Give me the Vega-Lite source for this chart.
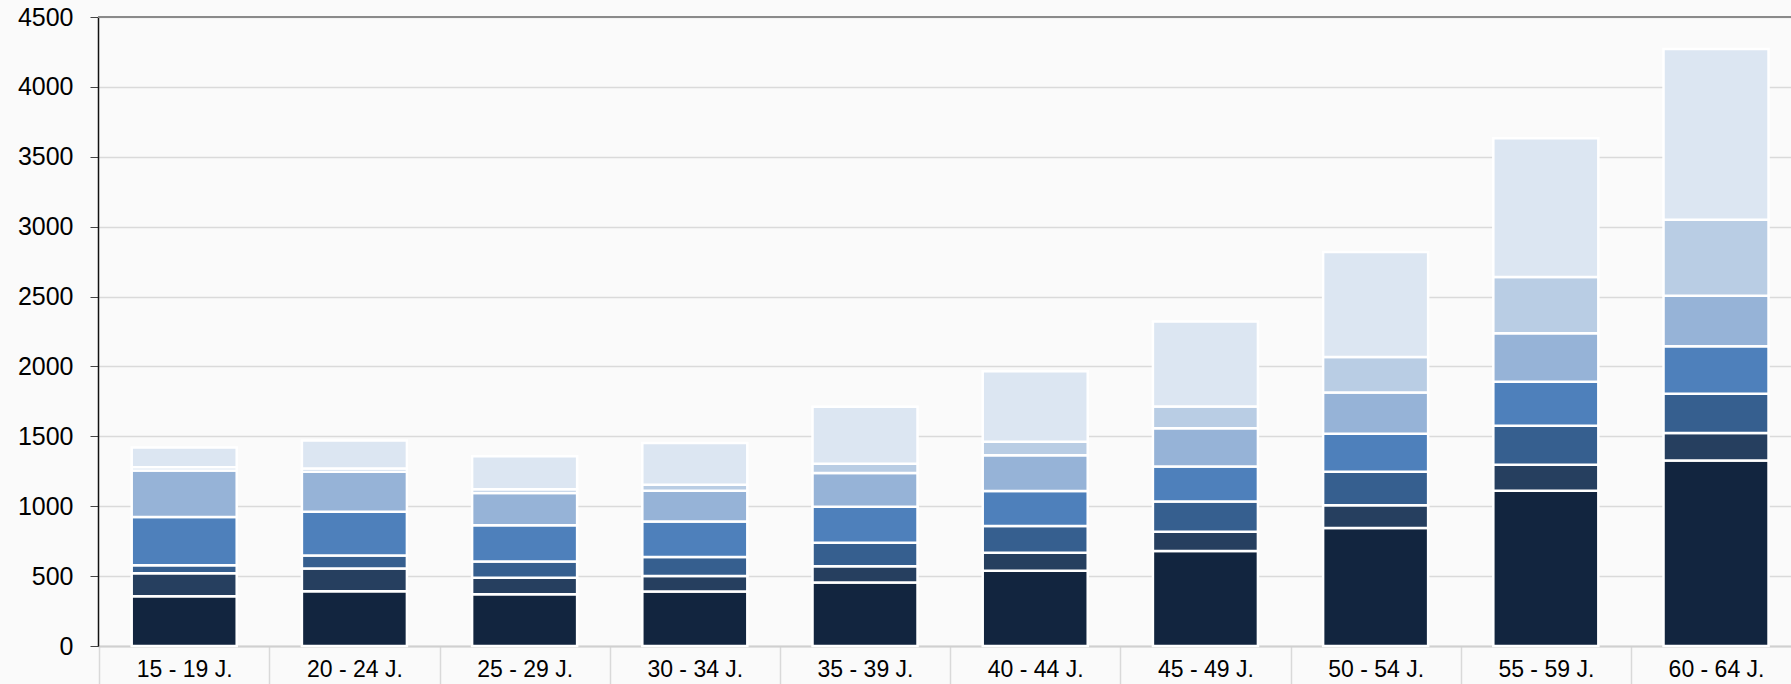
{
  "$schema": "https://vega.github.io/schema/vega-lite/v6.json",
  "autosize": {"type": "none"},
  "padding": {"left": 98, "top": 17, "right": 0, "bottom": 38},
  "width": 1693,
  "height": 629,
  "background": "#fafafa",
  "config": {"view": {"stroke": null, "fill": "#fafafa"}, "font": "Liberation Sans"},
  "layer": [
    {
      "data": {"values": [
        {"age": "15 - 19 J.", "s": "Gruppe 1", "k": 1, "v": 356},
        {"age": "15 - 19 J.", "s": "Gruppe 2", "k": 2, "v": 165},
        {"age": "15 - 19 J.", "s": "Gruppe 3", "k": 3, "v": 57},
        {"age": "15 - 19 J.", "s": "Gruppe 4", "k": 4, "v": 344},
        {"age": "15 - 19 J.", "s": "Gruppe 5", "k": 5, "v": 333},
        {"age": "15 - 19 J.", "s": "Gruppe 6", "k": 6, "v": 24},
        {"age": "15 - 19 J.", "s": "Gruppe 7", "k": 7, "v": 142},
        {"age": "20 - 24 J.", "s": "Gruppe 1", "k": 1, "v": 392},
        {"age": "20 - 24 J.", "s": "Gruppe 2", "k": 2, "v": 163},
        {"age": "20 - 24 J.", "s": "Gruppe 3", "k": 3, "v": 93},
        {"age": "20 - 24 J.", "s": "Gruppe 4", "k": 4, "v": 313},
        {"age": "20 - 24 J.", "s": "Gruppe 5", "k": 5, "v": 285},
        {"age": "20 - 24 J.", "s": "Gruppe 6", "k": 6, "v": 24},
        {"age": "20 - 24 J.", "s": "Gruppe 7", "k": 7, "v": 201},
        {"age": "25 - 29 J.", "s": "Gruppe 1", "k": 1, "v": 371},
        {"age": "25 - 29 J.", "s": "Gruppe 2", "k": 2, "v": 117},
        {"age": "25 - 29 J.", "s": "Gruppe 3", "k": 3, "v": 117},
        {"age": "25 - 29 J.", "s": "Gruppe 4", "k": 4, "v": 258},
        {"age": "25 - 29 J.", "s": "Gruppe 5", "k": 5, "v": 232},
        {"age": "25 - 29 J.", "s": "Gruppe 6", "k": 6, "v": 26},
        {"age": "25 - 29 J.", "s": "Gruppe 7", "k": 7, "v": 237},
        {"age": "30 - 34 J.", "s": "Gruppe 1", "k": 1, "v": 390},
        {"age": "30 - 34 J.", "s": "Gruppe 2", "k": 2, "v": 110},
        {"age": "30 - 34 J.", "s": "Gruppe 3", "k": 3, "v": 136},
        {"age": "30 - 34 J.", "s": "Gruppe 4", "k": 4, "v": 254},
        {"age": "30 - 34 J.", "s": "Gruppe 5", "k": 5, "v": 220},
        {"age": "30 - 34 J.", "s": "Gruppe 6", "k": 6, "v": 43},
        {"age": "30 - 34 J.", "s": "Gruppe 7", "k": 7, "v": 299},
        {"age": "35 - 39 J.", "s": "Gruppe 1", "k": 1, "v": 454},
        {"age": "35 - 39 J.", "s": "Gruppe 2", "k": 2, "v": 117},
        {"age": "35 - 39 J.", "s": "Gruppe 3", "k": 3, "v": 167},
        {"age": "35 - 39 J.", "s": "Gruppe 4", "k": 4, "v": 258},
        {"age": "35 - 39 J.", "s": "Gruppe 5", "k": 5, "v": 242},
        {"age": "35 - 39 J.", "s": "Gruppe 6", "k": 6, "v": 65},
        {"age": "35 - 39 J.", "s": "Gruppe 7", "k": 7, "v": 409},
        {"age": "40 - 44 J.", "s": "Gruppe 1", "k": 1, "v": 538},
        {"age": "40 - 44 J.", "s": "Gruppe 2", "k": 2, "v": 129},
        {"age": "40 - 44 J.", "s": "Gruppe 3", "k": 3, "v": 191},
        {"age": "40 - 44 J.", "s": "Gruppe 4", "k": 4, "v": 251},
        {"age": "40 - 44 J.", "s": "Gruppe 5", "k": 5, "v": 256},
        {"age": "40 - 44 J.", "s": "Gruppe 6", "k": 6, "v": 96},
        {"age": "40 - 44 J.", "s": "Gruppe 7", "k": 7, "v": 505},
        {"age": "45 - 49 J.", "s": "Gruppe 1", "k": 1, "v": 680},
        {"age": "45 - 49 J.", "s": "Gruppe 2", "k": 2, "v": 138},
        {"age": "45 - 49 J.", "s": "Gruppe 3", "k": 3, "v": 215},
        {"age": "45 - 49 J.", "s": "Gruppe 4", "k": 4, "v": 251},
        {"age": "45 - 49 J.", "s": "Gruppe 5", "k": 5, "v": 274},
        {"age": "45 - 49 J.", "s": "Gruppe 6", "k": 6, "v": 155},
        {"age": "45 - 49 J.", "s": "Gruppe 7", "k": 7, "v": 609},
        {"age": "50 - 54 J.", "s": "Gruppe 1", "k": 1, "v": 845},
        {"age": "50 - 54 J.", "s": "Gruppe 2", "k": 2, "v": 162},
        {"age": "50 - 54 J.", "s": "Gruppe 3", "k": 3, "v": 239},
        {"age": "50 - 54 J.", "s": "Gruppe 4", "k": 4, "v": 272},
        {"age": "50 - 54 J.", "s": "Gruppe 5", "k": 5, "v": 296},
        {"age": "50 - 54 J.", "s": "Gruppe 6", "k": 6, "v": 253},
        {"age": "50 - 54 J.", "s": "Gruppe 7", "k": 7, "v": 752},
        {"age": "55 - 59 J.", "s": "Gruppe 1", "k": 1, "v": 1110},
        {"age": "55 - 59 J.", "s": "Gruppe 2", "k": 2, "v": 186},
        {"age": "55 - 59 J.", "s": "Gruppe 3", "k": 3, "v": 279},
        {"age": "55 - 59 J.", "s": "Gruppe 4", "k": 4, "v": 315},
        {"age": "55 - 59 J.", "s": "Gruppe 5", "k": 5, "v": 348},
        {"age": "55 - 59 J.", "s": "Gruppe 6", "k": 6, "v": 402},
        {"age": "55 - 59 J.", "s": "Gruppe 7", "k": 7, "v": 993},
        {"age": "60 - 64 J.", "s": "Gruppe 1", "k": 1, "v": 1327},
        {"age": "60 - 64 J.", "s": "Gruppe 2", "k": 2, "v": 196},
        {"age": "60 - 64 J.", "s": "Gruppe 3", "k": 3, "v": 282},
        {"age": "60 - 64 J.", "s": "Gruppe 4", "k": 4, "v": 340},
        {"age": "60 - 64 J.", "s": "Gruppe 5", "k": 5, "v": 360},
        {"age": "60 - 64 J.", "s": "Gruppe 6", "k": 6, "v": 545},
        {"age": "60 - 64 J.", "s": "Gruppe 7", "k": 7, "v": 1221}
      ]},
      "mark": {"type": "bar", "stroke": "#ffffff", "strokeWidth": 2.5},
      "encoding": {
        "x": {
          "field": "age", "type": "nominal", "sort": null,
          "scale": {"paddingInner": 0.383, "paddingOuter": 0.165, "align": 0.6},
          "axis": {
            "title": null, "labelAngle": 0, "labelFontSize": 23, "labelColor": "#000000",
            "labelFont": "Liberation Sans", "tickSize": 38, "tickOffset": -85.1, "labelOffset": 85.1,
            "tickColor": "#d9d9d9", "tickWidth": 1.5, "domainColor": "#d0d0d0", "domainWidth": 2,
            "labelPadding": -8, "labelBaseline": "alphabetic", "grid": false
          }
        },
        "y": {
          "field": "v", "type": "quantitative", "stack": "zero",
          "scale": {"domain": [0, 4500], "nice": false},
          "axis": {
            "title": null, "values": [0, 500, 1000, 1500, 2000, 2500, 3000, 3500, 4000, 4500],
            "format": "d",
            "labelFontSize": 25, "labelColor": "#000000", "labelFont": "Liberation Sans",
            "tickSize": 8, "tickColor": "#444444", "domainColor": "#111111", "domainWidth": 1.5,
            "gridColor": "#dadada", "gridWidth": 1.5, "labelPadding": 17
          }
        },
        "color": {
          "field": "s", "type": "nominal",
          "scale": {
            "domain": ["Gruppe 1", "Gruppe 2", "Gruppe 3", "Gruppe 4", "Gruppe 5", "Gruppe 6", "Gruppe 7"],
            "range": ["#12253f", "#263f5f", "#365f8f", "#4e80bb", "#96b3d7", "#b9cde4", "#dce6f2"]
          },
          "legend": null
        },
        "order": {"field": "k", "type": "quantitative", "sort": "ascending"}
      }
    },
    {
      "data": {"values": [{"top": 4500}]},
      "mark": {"type": "rule", "color": "#8a8a8a", "strokeWidth": 2},
      "encoding": {"y": {"field": "top", "type": "quantitative"}}
    }
  ]
}
